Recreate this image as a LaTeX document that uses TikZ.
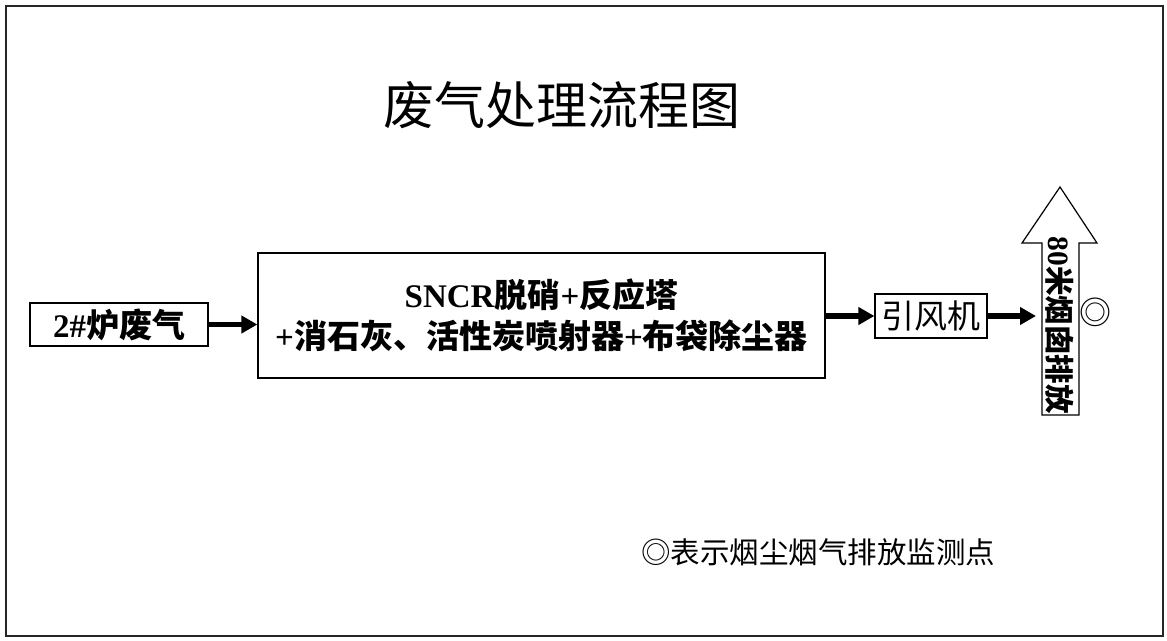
\documentclass[tikz,border=0pt]{standalone}
\usepackage{fontspec}
\setmainfont{Liberation Serif}
\newfontfamily\cjk{Noto Sans CJK SC}
\usetikzlibrary{arrows.meta,positioning}
\newcommand{\zh}[1]{{\cjk #1}}
\tikzset{
	unit/.style={draw, line width=1.2pt, inner sep=0pt, align=center},
	flow/.style={line width=5.5pt, -{Triangle[length=16pt,width=17pt]}},
	big/.style={font=\fontsize{33}{41}\selectfont\bfseries},
}
\begin{document}
\begin{tikzpicture}[x=1pt,y=-1pt]
	\useasboundingbox (0,0) rectangle (1167,640);
	% outer frame
	\draw[line width=1.5pt, black!85] (6,6) rectangle (1163,636);
	\node (title) at (562,105) {\fontsize{51}{51}\selectfont\zh{废气处理流程图}};
	% process units
	\node[unit, big, minimum width=178pt, minimum height=43pt] (furnace) at (119,324.5)
		{2\#\zh{炉废气}};
	\node[unit, big, minimum width=567pt, minimum height=125pt] (treat) at (541.5,315.5)
		{SNCR\zh{脱硝}+\zh{反应塔}\\+\zh{消石灰、活性炭喷射器}+\zh{布袋除尘器}};
	\node[unit, minimum width=112pt, minimum height=44pt, font=\fontsize{33}{33}\selectfont] (fan) at (931,316)
		{\zh{引风机}};
	% chimney
	\draw[line width=1.2pt] (1042,415) -- (1042,243) -- (1022,243) -- (1060,187)
		-- (1097,243) -- (1079,243) -- (1079,415) -- cycle;
	\coordinate (stackin) at (1042,316);
	\node[rotate=-90, font=\fontsize{29.5}{29.5}\selectfont\bfseries] (stack) at (1060,325) {80\zh{米烟囱排放}};
	\node[font=\fontsize{32}{32}\selectfont] (mark) at (1095,312) {\zh{◎}};
	% connectors
	\draw[flow] (furnace) -- (treat.west |- furnace);
	\draw[flow] (treat.east |- fan) -- (fan);
	\draw[flow, shorten >=6pt] (fan) -- (stackin);
	\node[font=\fontsize{29.5}{29.5}\selectfont] (legend) at (818,552) {\zh{◎表示烟尘烟气排放监测点}};
\end{tikzpicture}
\end{document}
